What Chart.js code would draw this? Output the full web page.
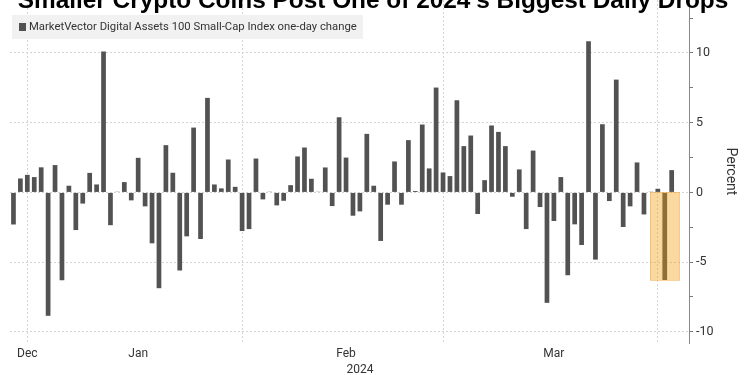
<!DOCTYPE html>
<html><head><meta charset="utf-8">
<script src="https://cdn.jsdelivr.net/npm/chart.js@4.4.1/dist/chart.umd.min.js"></script>
<style>html,body{margin:0;padding:0;background:#fff}#wrap{width:750px;height:375px;position:relative}</style>
</head><body><div id="wrap"><canvas id="c" width="750" height="375"></canvas></div>
<script>
const titleText = "Smaller Crypto Coins Post One of 2024's Biggest Daily Drops";
const seriesName = 'MarketVector Digital Assets 100 Small-Cap Index one-day change';
const startDate = '2023-12-30';
const dayCount = 98;
const dailyChange = [
  -2.3, 1.0, 1.26, 1.1, 1.8, -8.85, 1.96, -6.3, 0.48, -2.7,
  -0.8, 1.4, 0.57, 10.1, -2.35, 0.05, 0.74, -0.57, 2.48, -1.0,
  -3.65, -6.87, 3.39, 1.41, -5.6, -3.15, 4.65, -3.34, 6.78, 0.57,
  0.29, 2.36, 0.4, -2.77, -2.63, 2.43, -0.5, 0.05, -0.93, -0.6,
  0.52, 2.58, 3.22, 0.98, 0.05, 1.79, -0.98, 5.39, 2.5, -1.67,
  -1.36, 4.2, 0.48, -3.48, -0.88, 2.22, -0.88, 3.75, 0.1, 4.87,
  1.72, 7.52, 1.43, 1.17, 6.61, 3.32, 4.08, -1.55, 0.88, 4.8,
  4.34, 3.32, -0.31, 1.65, -2.63, 3.0, -1.05, -7.92, -2.05, 1.1,
  -5.94, -2.29, -3.77, 10.84, -4.82, 4.89, -0.62, 8.09, -2.48, -1.0,
  2.15, -1.58, 0.05, 0.26, -6.28, 1.6
];
const monthTickDates = ['2024-01-01', '2024-01-17', '2024-02-16', '2024-03-17'];
const monthTickLabels = ['Dec', 'Jan', 'Feb', 'Mar'];
const yearTickDate = '2024-02-18';
const yearTickLabel = '2024';
const monthGridDates = ['2024-01-01', '2024-02-01', '2024-03-01', '2024-04-01'];
const highlightDate = '2024-04-02';
const yMin = -10.8, yMax = 13.8, yStep = 2.5, yLabelEvery = 5;
const yTitle = 'Percent';

const dayLabels = [];
const t0 = new Date(startDate + 'T00:00:00Z').getTime();
for (let i = 0; i < dayCount; i++) dayLabels.push(new Date(t0 + i * 86400000).toISOString().slice(0, 10));
const gridIdx = monthGridDates.map(d => dayLabels.indexOf(d));
const monthIdx = monthTickDates.map(d => dayLabels.indexOf(d));
const yearIdx = dayLabels.indexOf(yearTickDate);
const hiIdx = dayLabels.indexOf(highlightDate);

const FONT = 'Roboto, "Liberation Sans", sans-serif';
const barColor = '#525252';
const gridColor = '#d4d4d4';

const decorPlugin = {
  id: 'decor',
  afterDatasetsDraw(chart) {
    const ctx = chart.ctx, xs = chart.scales.x, ys = chart.scales.y;
    const cx = xs.getPixelForValue(hiIdx);
    const cw = xs.getPixelForValue(1) - xs.getPixelForValue(0);
    const half = 2.1 * cw;
    const y0 = ys.getPixelForValue(0), y1 = ys.getPixelForValue(dailyChange[hiIdx]);
    ctx.save();
    ctx.fillStyle = 'rgba(240,158,11,0.39)';
    ctx.fillRect(cx - half, y0, half * 2, y1 - y0);
    ctx.strokeStyle = '#eea43a';
    ctx.lineWidth = 1;
    ctx.setLineDash([1, 1]);
    ctx.strokeRect(Math.round(cx - half) + 0.5, Math.round(y0) + 0.5, Math.round(half * 2), Math.round(y1 - y0));
    ctx.restore();
  },
  afterDraw(chart) {
    const ctx = chart.ctx;
    ctx.save();
    ctx.fillStyle = '#f1f1f1';
    ctx.fillRect(12, 15, 351, 24);
    ctx.fillStyle = barColor;
    ctx.fillRect(19, 23, 7, 8);
    ctx.fillStyle = '#333';
    ctx.font = '11.3px ' + FONT;
    ctx.textBaseline = 'middle';
    ctx.textAlign = 'left';
    ctx.fillText(seriesName, 29, 27);
    ctx.fillStyle = '#000';
    ctx.font = 'bold 24.4px "Liberation Sans", Arial, sans-serif';
    ctx.textAlign = 'center';
    ctx.textBaseline = 'alphabetic';
    ctx.fillText(titleText, 373, 8);
    ctx.restore();
  }
};

new Chart(document.getElementById('c'), {
  type: 'bar',
  data: {
    labels: dayLabels,
    datasets: [{
      label: seriesName,
      data: dailyChange,
      backgroundColor: barColor,
      borderWidth: 0,
      barPercentage: 0.68,
      categoryPercentage: 1.0
    }]
  },
  options: {
    responsive: false,
    animation: false,
    layout: { padding: { left: 10, top: 0, right: 0, bottom: 0 } },
    plugins: { legend: { display: false }, title: { display: false }, tooltip: { enabled: false } },
    scales: {
      x: {
        type: 'category',
        offset: true,
        grid: {
          offset: false,
          drawTicks: false,
          lineWidth: 1,
          color: c => gridIdx.includes(c.index) ? gridColor : 'rgba(0,0,0,0)'
        },
        border: { display: false, dash: [2, 2] },
        ticks: {
          autoSkip: false, maxRotation: 0, minRotation: 0, padding: 4,
          color: '#333', font: { size: 12, family: FONT },
          callback: (v, i) => { const k = monthIdx.indexOf(i); return k >= 0 ? monthTickLabels[k] : ''; }
        },
        afterFit: s => { s.height = 16; s.paddingLeft = 0; s.paddingRight = 0; }
      },
      x2: {
        type: 'category',
        position: 'bottom',
        offset: true,
        grid: { display: false, drawTicks: false },
        border: { display: false },
        ticks: {
          autoSkip: false, maxRotation: 0, minRotation: 0, padding: 4,
          color: '#333', font: { size: 12, family: FONT },
          callback: (v, i) => i === yearIdx ? yearTickLabel : ''
        },
        afterFit: s => { s.height = 16; s.paddingLeft = 0; s.paddingRight = 0; }
      },
      y: {
        position: 'right',
        min: yMin, max: yMax,
        grid: {
          drawTicks: true, tickLength: 4, tickColor: '#777',
          color: c => (c.tick && Math.abs(c.tick.value % yLabelEvery) < 1e-9) ? gridColor : 'rgba(0,0,0,0)'
        },
        border: { display: true, color: '#888', dash: [2, 2] },
        ticks: {
          stepSize: yStep, includeBounds: false, padding: 3,
          color: '#333', font: { size: 12.5, family: FONT },
          callback: v => Math.abs(v % yLabelEvery) < 1e-9 ? String(v) : ''
        },
        title: { display: true, text: yTitle, color: '#333', font: { size: 14, family: FONT }, padding: { top: 11, bottom: 0 } },
        afterFit: s => { s.width = 61; s.paddingTop = 0; s.paddingBottom = 0; }
      }
    }
  },
  plugins: [decorPlugin]
});
</script></body></html>
